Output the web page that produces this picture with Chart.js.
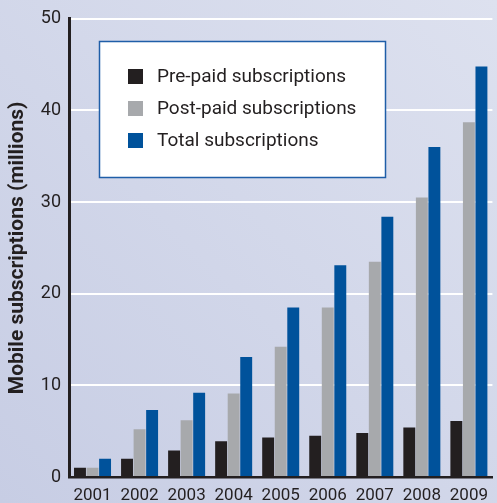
<!DOCTYPE html>
<html>
<head>
<meta charset="utf-8">
<script src="https://cdn.jsdelivr.net/npm/chart.js@4"></script>
<style>
  html, body { margin: 0; padding: 0; overflow: hidden; background: #ccd2e7; }
  #wrap { width: 497px; height: 503px; }
</style>
</head>
<body>
<div id="wrap"><canvas id="subsChart" width="497" height="503"></canvas></div>
<script>
// mobile subscriptions by year, millions
const years = ['2001', '2002', '2003', '2004', '2005', '2006', '2007', '2008', '2009'];
const prepaid = [1.0, 2.0, 2.9, 3.9, 4.3, 4.5, 4.8, 5.4, 6.1];
const postpaid = [1.0, 5.2, 6.2, 9.1, 14.2, 18.5, 23.5, 30.5, 38.7];
const total = [2.0, 7.3, 9.2, 13.1, 18.5, 23.1, 28.4, 36.0, 44.8];
const seriesNames = ['Pre-paid subscriptions', 'Post-paid subscriptions', 'Total subscriptions'];
const yTicks = [0, 10, 20, 30, 40, 50];

const FONT = '"Liberation Sans Narrow", "Roboto", "Liberation Sans", sans-serif';
const INK = '#231f20';

// soft lavender wash behind everything
const backdrop = {
  id: 'backdrop',
  beforeDraw(chart) {
    const { ctx, width, height } = chart;
    const g = ctx.createLinearGradient(0, height, width, 0);
    g.addColorStop(0, '#c7cde4');
    g.addColorStop(1, '#dde1ef');
    ctx.save();
    ctx.fillStyle = g;
    ctx.fillRect(0, 0, width, height);
    ctx.restore();
  }
};

// boxed legend sitting inside the plot
const boxLegend = {
  id: 'boxLegend',
  afterDatasetsDraw(chart) {
    const { ctx } = chart;
    const x = 99.5, y = 41.5, w = 286, h = 136;
    ctx.save();
    ctx.fillStyle = '#ffffff';
    ctx.fillRect(x, y, w, h);
    ctx.strokeStyle = '#1f5ea8';
    ctx.lineWidth = 1.5;
    ctx.strokeRect(x, y, w, h);
    ctx.font = '19px ' + FONT;
    ctx.textBaseline = 'middle';
    chart.data.datasets.forEach((ds, i) => {
      const cy = 76.5 + i * 32;
      ctx.fillStyle = ds.backgroundColor;
      ctx.fillRect(128, cy - 7.5, 15, 15);
      ctx.fillStyle = INK;
      ctx.fillText(ds.label, 157, cy + 1);
    });
    ctx.restore();
  }
};

new Chart(document.getElementById('subsChart'), {
  type: 'bar',
  data: {
    labels: years,
    datasets: [
      { label: seriesNames[0], data: prepaid, backgroundColor: '#231f20' },
      { label: seriesNames[1], data: postpaid, backgroundColor: '#a7a9ac' },
      { label: seriesNames[2], data: total, backgroundColor: '#00529b' }
    ]
  },
  options: {
    responsive: false,
    animation: false,
    devicePixelRatio: 1,
    categoryPercentage: 0.8,
    barPercentage: 0.95,
    layout: { padding: { top: 18, right: 0, bottom: 0, left: 0 } },
    plugins: {
      legend: { display: false },
      tooltip: { enabled: false }
    },
    scales: {
      x: {
        grid: { display: false, drawTicks: false },
        border: { display: true, color: INK, width: 2.5 },
        ticks: { color: INK, font: { family: FONT, size: 17 }, padding: 9, maxRotation: 0 },
        afterFit(scale) { scale.height = 26; }
      },
      y: {
        min: 0,
        max: 50,
        afterBuildTicks(scale) { scale.ticks = yTicks.map(v => ({ value: v })); },
        grid: { color: '#ffffff', lineWidth: 2, drawTicks: false },
        border: { display: true, color: INK, width: 3 },
        ticks: { color: INK, font: { family: FONT, size: 18 }, padding: 8 },
        title: {
          display: true,
          text: 'Mobile subscriptions (millions)',
          color: INK,
          font: { family: FONT, size: 21, weight: 'bold' },
          padding: { top: 5, bottom: 0 }
        },
        afterFit(scale) { scale.width = 69; }
      }
    }
  },
  plugins: [backdrop, boxLegend]
});
</script>
</body>
</html>
